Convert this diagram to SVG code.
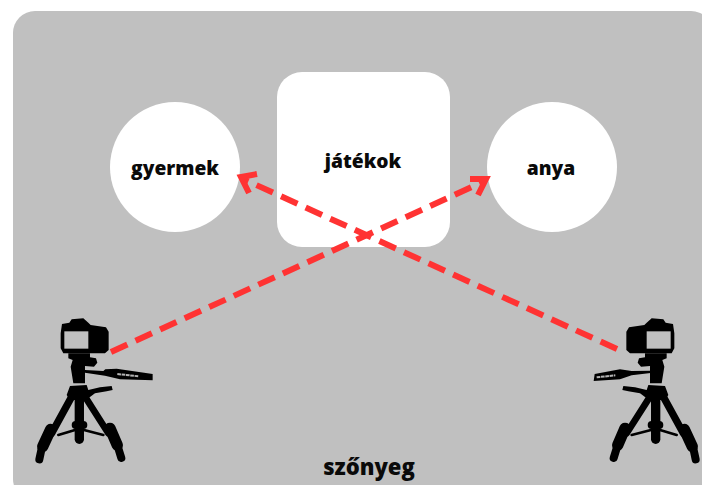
<svg xmlns="http://www.w3.org/2000/svg" width="702" height="485" viewBox="0 0 702 485">
<style>
.n{fill:#fff}
.t{font-family:"Open Sans","Noto Sans",sans-serif;font-weight:800;fill:#0a0a0a;text-anchor:middle;font-size:19.2px}
.l{stroke:#ff3333;stroke-width:6;fill:none}
.d{stroke-dasharray:18 9}
.k{stroke:#000;fill:none;stroke-linecap:round}
.s{fill:#000}
.g{fill:#c0c0c0}
.e{stroke:#b4b4b4;stroke-width:6;stroke-dasharray:11 2;fill:none}
</style>
<defs>
<g id="cam" transform="scale(.3333)">
<path class="s" d="M122 100L126 72 148 68 155 58 190 55 205 68 212 75 258 82 266 95V150L255 160H130L122 145Z"/>
<path class="g" d="M133 94H205V146H133Z"/>
<path class="s" d="M145 160H210V172L228 175 232 188 222 200 195 198V250H160L152 200 158 180 145 175Z"/>
<path class="s" d="M150 258L200 255 205 270 240 262 275 258 278 270 260 274 225 280 205 295 190 300H150L140 285Z"/>
<g class="k">
<path stroke-width="22" d="M155 290L95 400"/>
<path stroke-width="34" d="M92 388L68 440"/>
<path stroke-width="24" d="M64 450L58 478"/>
<path stroke-width="20" d="M195 290L265 400"/>
<path stroke-width="34" d="M270 385L292 436"/>
<path stroke-width="24" d="M296 448L304 474"/>
<path stroke-width="28" d="M178 295V418"/>
<path stroke-width="8" d="M115 405L165 390M192 390L250 405"/>
<path stroke-width="24" d="M167 375H190"/>
</g>
</g>
</defs>
<rect id="carpet" x="13" y="11" width="700" height="490" rx="22" fill="#c0c0c0"/>
<g id="toys"><rect class="n" x="277" y="72" width="173" height="175" rx="25"/><text class="t" x="363" y="168">játékok</text></g>
<g id="child"><circle class="n" cx="175" cy="167" r="65"/><text class="t" x="175" y="175">gyermek</text></g>
<g id="mother"><circle class="n" cx="552" cy="167" r="65"/><text class="t" x="551" y="175">anya</text></g>
<g id="carpet-label"><text class="t" x="369" y="475" style="font-size:22px">szőnyeg</text></g>
<g id="camera-left"><use href="#cam" transform="translate(20 300)"/>
<g transform="translate(20 300) scale(.3333)"><path class="s" d="M195 210L250 213 256 208 290 206 398 222V241L375 240 300 238 255 227 195 218Z"/><path class="e" d="M292 222L356 229"/></g></g>
<g id="camera-right"><use href="#cam" transform="translate(715 300) scale(-1 1)"/>
<g transform="translate(570 300) scale(.3333)"><path class="s" d="M242 212L185 213 150 208 74 222 71 243 150 238 185 226 242 219Z"/><path class="e" d="M80 232L136 226"/></g></g>
<g id="connectors">
<path class="l d" d="M111 352L485 181"/>
<path class="l" d="M470 179L486 179 478 195"/>
<path class="l d" d="M617 349L243 179"/>
<path class="l" d="M257 174L241 177 249 193"/>
</g>
</svg>
